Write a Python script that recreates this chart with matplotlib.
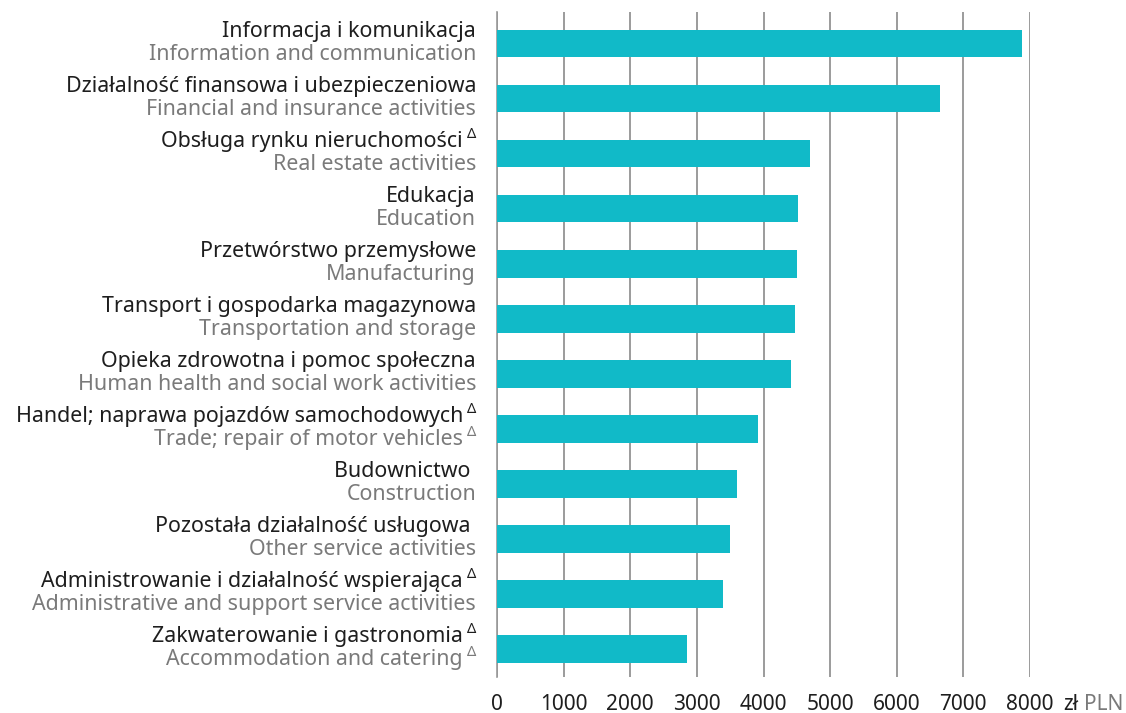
import matplotlib
matplotlib.use('Agg')
import matplotlib.pyplot as plt
import numpy as np

plt.rcParams['font.family'] = ['Noto Sans', 'DejaVu Sans']

# labels (Polish / English), delta flags, and values in PLN
labels_pl = ['Informacja i komunikacja',
             'Działalność finansowa i ubezpieczeniowa',
             'Obsługa rynku nieruchomości',
             'Edukacja',
             'Przetwórstwo przemysłowe',
             'Transport i gospodarka magazynowa',
             'Opieka zdrowotna i pomoc społeczna',
             'Handel; naprawa pojazdów samochodowych',
             'Budownictwo ',
             'Pozostała działalność usługowa ',
             'Administrowanie i działalność wspierająca',
             'Zakwaterowanie i gastronomia']
labels_en = ['Information and communication',
             'Financial and insurance activities',
             'Real estate activities',
             'Education',
             'Manufacturing',
             'Transportation and storage',
             'Human health and social work activities',
             'Trade; repair of motor vehicles',
             'Construction',
             'Other service activities',
             'Administrative and support service activities',
             'Accommodation and catering']
delta_pl = [False, False, True, False, False, False, False, True, False, False, True, True]
delta_en = [False, False, False, False, False, False, False, True, False, False, False, True]
values = [7880, 6650, 4700, 4520, 4500, 4470, 4415, 3920, 3605, 3500, 3385, 2855]
xticks = [0, 1000, 2000, 3000, 4000, 5000, 6000, 7000, 8000]

bar_col = '#11bac8'
dark = '#1e1e1e'
grey = '#7a7a7a'
grid_col = '#8a8a8a'

fig = plt.figure(figsize=(11.26, 7.13), dpi=100)
ax = fig.add_axes([497/1126, 1-677/713, (1030-497)/1126, (677-12)/713])

y = np.arange(len(values))
ax.barh(y, values, height=0.5, color=bar_col, zorder=3)
ax.set_xlim(0, 8000)
ax.set_ylim(len(values) - 0.49, -0.575)

ax.set_xticks(xticks)
ax.set_xticklabels([str(t) for t in xticks], fontsize=15, color=dark)
ax.tick_params(axis='x', length=0, pad=12)
ax.set_yticks([])
ax.grid(axis='x', color=grid_col, linewidth=1.2, zorder=0)
for s in ['top', 'right', 'bottom']:
    ax.spines[s].set_visible(False)
ax.spines['left'].set_color('#999999')
ax.spines['left'].set_linewidth(1.2)

px = 0.72  # points per pixel at dpi 100
xo = -21 * px
fs = 15.4
for i in range(len(values)):
    for txt, has_d, col, dy in [(labels_pl[i], delta_pl[i], dark, 5.0),
                                (labels_en[i], delta_en[i], grey, -11.5)]:
        shift = -13 * px if has_d else 0
        ax.annotate(txt, xy=(0, i), xycoords=('axes fraction', 'data'),
                    xytext=(xo + shift, dy), textcoords='offset points',
                    ha='right', va='baseline', fontsize=fs, color=col)
        if has_d:
            ax.annotate('Δ', xy=(0, i), xycoords=('axes fraction', 'data'),
                        xytext=(xo, dy + 9 * px), textcoords='offset points',
                        ha='right', va='baseline', fontsize=10.5, color=col)

# currency unit after the last tick label
ax.annotate('zł', xy=(8000, 0), xycoords=('data', 'axes fraction'),
            xytext=(33 * px, -12), textcoords='offset points',
            ha='left', va='top', fontsize=15, color=dark)
ax.annotate('PLN', xy=(8000, 0), xycoords=('data', 'axes fraction'),
            xytext=(54 * px, -12), textcoords='offset points',
            ha='left', va='top', fontsize=15, color=grey)

fig.savefig('out.png', dpi=100)
